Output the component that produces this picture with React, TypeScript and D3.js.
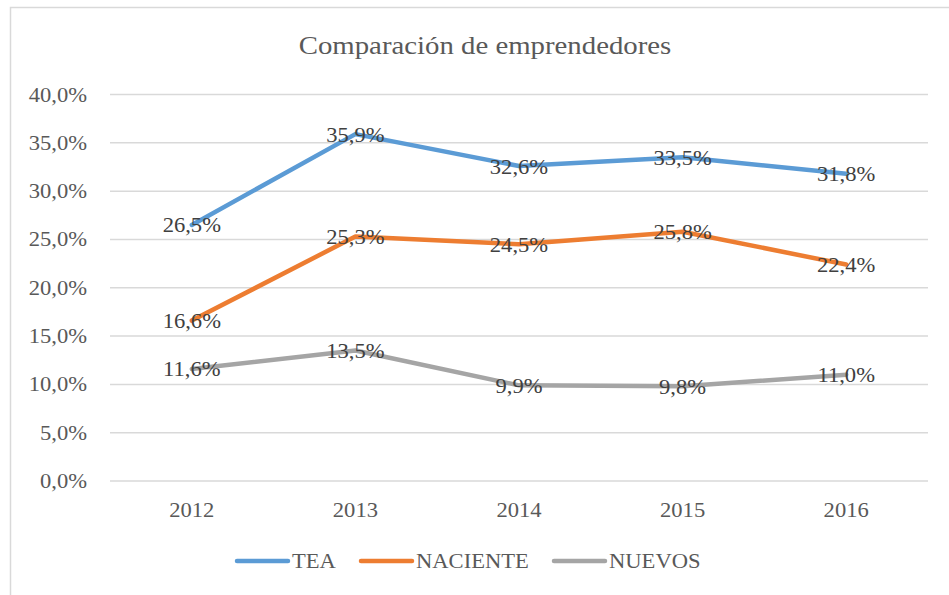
import React from "react";
import * as d3 from "d3";

const years = ["2012", "2013", "2014", "2015", "2016"];
const tea = [26.5, 35.9, 32.6, 33.5, 31.8];
const naciente = [16.6, 25.3, 24.5, 25.8, 22.4];
const nuevos = [11.6, 13.5, 9.9, 9.8, 11.0];
const yTicks = [0, 5, 10, 15, 20, 25, 30, 35, 40];
const seriesNames = ["TEA", "NACIENTE", "NUEVOS"];
const seriesColors = ["#5B9BD5", "#ED7D31", "#A5A5A5"];

const W = 949;
const H = 595;
const SX = 1.13;
const FONT = "'Liberation Serif', 'Times New Roman', serif";

const fmt = (v: number) => v.toFixed(1).replace(".", ",") + "%";

function T({ x, y, anchor, size, fill, children }: any) {
  return (
    <text
      transform={`translate(${x},${y}) scale(${SX},1)`}
      textAnchor={anchor}
      fontSize={size}
      fill={fill}
      fontFamily={FONT}
    >
      {children}
    </text>
  );
}

export default function App() {
  const x = d3.scaleBand().domain(years).range([110, 928]);
  const y = d3.scaleLinear().domain([0, 40]).range([481, 94.5]);
  const data = [tea, naciente, nuevos];
  const line = d3
    .line<number>()
    .x((_, i) => x(years[i])! + x.bandwidth() / 2)
    .y((d) => y(d));

  const legendX = [237, 361, 554];

  return (
    <svg
      width={W}
      height={H}
      style={{ position: "absolute", left: 0, top: 0, background: "#fff" }}
    >
      <rect x={0} y={0} width={W} height={H} fill="#fff" />
      <rect x={10.5} y={7.5} width={W + 20} height={H + 20} fill="#fff" stroke="#D9D9D9" strokeWidth={1.5} />
      <T x={485} y={54} anchor="middle" size={25.5} fill="#595959">
        Comparación de emprendedores
      </T>
      {yTicks.map((t) => (
        <g key={t}>
          <line x1={110} x2={928} y1={y(t)} y2={y(t)} stroke="#D9D9D9" strokeWidth={1.5} />
          <T x={87} y={y(t) + 7} anchor="end" size={20} fill="#595959">
            {fmt(t)}
          </T>
        </g>
      ))}
      {years.map((yr) => (
        <T key={yr} x={x(yr)! + x.bandwidth() / 2} y={517} anchor="middle" size={20} fill="#595959">
          {yr}
        </T>
      ))}
      {data.map((s, i) => (
        <path
          key={i}
          d={line(s)!}
          fill="none"
          stroke={seriesColors[i]}
          strokeWidth={4.5}
          strokeLinecap="round"
          strokeLinejoin="round"
        />
      ))}
      {data.map((s, i) =>
        s.map((v, j) => (
          <T
            key={i + "-" + j}
            x={x(years[j])! + x.bandwidth() / 2}
            y={y(v) + 7.5}
            anchor="middle"
            size={20}
            fill="#404040"
          >
            {fmt(v)}
          </T>
        ))
      )}
      {seriesNames.map((n, i) => (
        <g key={n}>
          <line
            x1={legendX[i]}
            x2={legendX[i] + 51}
            y1={561}
            y2={561}
            stroke={seriesColors[i]}
            strokeWidth={4.5}
            strokeLinecap="round"
          />
          <T x={legendX[i] + 55} y={568} anchor="start" size={20} fill="#595959">
            {n}
          </T>
        </g>
      ))}
    </svg>
  );
}
